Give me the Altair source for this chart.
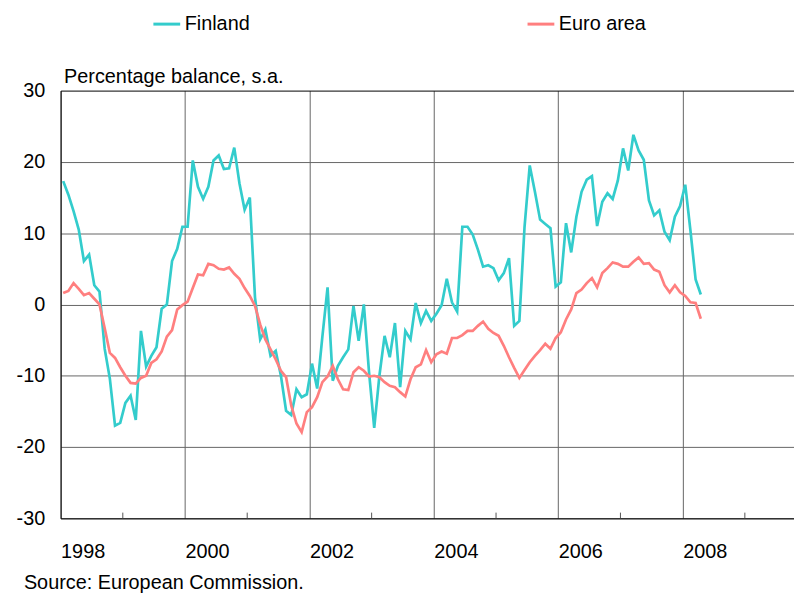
import altair as alt
import pandas as pd

series_names = ["Finland", "Euro area"]
colors = ["#33CCCC", "#FF7F7F"]

year_ticks = [1998, 2000, 2002, 2004, 2006, 2008]
minor_ticks = [1999, 2001, 2003, 2005, 2007, 2009]
y_ticks = [-30, -20, -10, 0, 10, 20, 30]

# monthly, Jan 1998 .. Apr 2008
finland = [
    17.3, 15.4, 13.1, 10.5, 6.1, 7.0, 2.7, 1.8, -6.2, -10.4, -17.0, -16.6,
    -13.8, -12.8, -16.2, -3.7, -8.7, -7.2, -6.0, -0.6, 0.0, 6.1, 7.8, 10.9,
    10.9, 20.2, 16.5, 14.8, 16.5, 20.2, 20.9, 19.0, 19.1, 22.0, 17.0, 13.3,
    15.0, 1.0, -4.9, -3.5, -7.2, -6.5, -10.0, -14.9, -15.5, -11.9, -13.0, -12.6,
    -8.3, -11.8, -4.5, 2.4, -10.7, -8.6, -7.4, -6.3, -0.2, -5.1, 0.0, -9.5,
    -17.3, -10.0, -4.4, -7.4, -2.6, -11.6, -3.7, -4.9, 0.2, -2.6, -0.9, -2.3,
    -1.3, -0.1, 3.6, 0.3, -1.0, 10.9, 10.9, 9.8, 7.7, 5.3, 5.5, 5.1,
    3.4, 4.4, 6.5, -3.0, -2.3, 10.9, 19.5, 15.8, 11.9, 11.3, 10.7, 2.5,
    3.1, 11.4, 7.3, 12.3, 15.8, 17.5, 18.0, 11.0, 14.4, 15.6, 14.8, 17.4,
    21.9, 18.8, 23.8, 21.6, 20.3, 14.6, 12.5, 13.2, 10.2, 9.0, 12.3, 13.8,
    16.8, 10.4, 3.5, 1.4,
]
euro_area = [
    1.6, 1.9, 3.0, 2.2, 1.3, 1.6, 0.8, 0.0, -3.3, -6.8, -7.5, -8.8,
    -10.0, -11.0, -11.1, -10.3, -10.0, -8.2, -7.7, -6.6, -4.5, -3.6, -0.7, -0.1,
    0.4, 2.3, 4.2, 4.1, 5.7, 5.5, 5.0, 4.9, 5.2, 4.3, 3.6, 2.3,
    1.2, -0.2, -2.8, -4.9, -6.3, -7.7, -9.3, -10.2, -14.2, -16.7, -17.9, -15.1,
    -14.4, -13.0, -10.9, -10.1, -8.6, -10.5, -11.9, -12.0, -9.5, -8.8, -9.3, -10.1,
    -10.0, -10.2, -10.9, -11.4, -11.6, -12.3, -12.9, -10.5, -8.8, -8.4, -6.4, -8.1,
    -7.0, -6.6, -6.9, -4.7, -4.7, -4.3, -3.7, -3.7, -3.0, -2.4, -3.4, -4.0,
    -4.4, -5.8, -7.4, -8.9, -10.3, -9.2, -8.1, -7.2, -6.4, -5.5, -6.2, -4.7,
    -3.9, -2.1, -0.7, 1.6, 2.1, 3.0, 3.7, 2.4, 4.4, 5.1, 5.9, 5.7,
    5.3, 5.3, 6.0, 6.6, 5.7, 5.8, 4.9, 4.6, 2.7, 1.7, 2.7, 1.7,
    1.2, 0.3, 0.2, -2.0,
]

rows = []
for i, (f, e) in enumerate(zip(finland, euro_area)):
    t = 1998 + (i + 0.5) / 12
    rows.append({"t": t, "series": "Finland", "v": f})
    rows.append({"t": t, "series": "Euro area", "v": e})
df = pd.DataFrame(rows)

FONT = "Liberation Sans"

x_scale = alt.Scale(domain=[1998, 2009.79], nice=False, zero=False)
y_scale = alt.Scale(domain=[-30, 30], nice=False)

lines = alt.Chart(df).mark_line(strokeWidth=2.7).encode(
    x=alt.X("t:Q", scale=x_scale,
            axis=alt.Axis(values=year_ticks, format="d", labelAlign="left",
                          ticks=False, labelPadding=23, grid=True,
                          gridColor="#666666", gridWidth=1,
                          domainColor="black", domainWidth=1,
                          labelFontSize=20, labelColor="black",
                          labelFlush=False, title=None)),
    y=alt.Y("v:Q", scale=y_scale,
            axis=alt.Axis(values=y_ticks, ticks=False, labelPadding=16,
                          labelExpr="'' + datum.value",
                          labelFontSize=20, labelColor="black",
                          grid=True,
                          gridColor={"condition": {"test": "datum.value === 30", "value": "black"},
                                     "value": "#666666"},
                          domainColor="black", domainWidth=1,
                          title="Percentage balance, s.a.", titleAngle=0,
                          titleAlign="left", titleBaseline="alphabetic",
                          titleX=3, titleY=-8, titleFontSize=20,
                          titleFontWeight="normal", titleColor="black")),
    color=alt.Color("series:N",
                    scale=alt.Scale(domain=series_names, range=colors),
                    legend=alt.Legend(orient="none", legendX=92, legendY=-82,
                                      direction="horizontal", title=None,
                                      symbolType="stroke", symbolSize=729,
                                      symbolStrokeWidth=3, labelFontSize=20,
                                      labelColor="black", labelOffset=3,
                                      columnPadding=273)),
)

ticks_df = pd.DataFrame({"yr": minor_ticks})
minor = alt.Chart(ticks_df).mark_rule(color="#555555", strokeWidth=1).encode(
    x=alt.X("yr:Q", scale=x_scale),
    y=alt.datum(-30),
    y2=alt.datum(-29.2),
)

chart = alt.layer(minor, lines).properties(
    width=739, height=431,
    padding={"left": 53, "top": 81, "right": 0, "bottom": 73},
    autosize=alt.AutoSizeParams(type="none"),
    title=alt.Title("Source: European Commission.", orient="bottom",
                    anchor="start", frame="group", fontSize=20,
                    fontWeight="normal", color="black", font=FONT,
                    offset=12, dx=-37),
).configure(font=FONT).configure_view(stroke=None)

chart.save("out.html", embed_options={"renderer": "svg", "actions": False})
